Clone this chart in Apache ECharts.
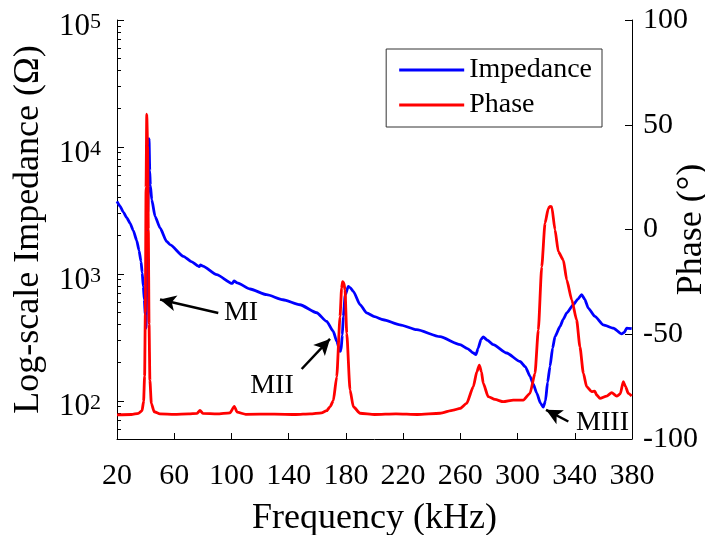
<!DOCTYPE html>
<html>
<head>
<meta charset="utf-8">
<script src="https://cdn.jsdelivr.net/npm/echarts@6/dist/echarts.min.js"></script>
<style>
  html, body { margin: 0; padding: 0; background: #fff; }
  #chart { width: 705px; height: 535px; }
</style>
</head>
<body>
<div id="chart"></div>
<script>
// Impedance magnitude (ohm) versus frequency (kHz)
const impedanceFreq = [
  20, 22.1, 24.4, 26.8, 29.1, 31.4, 33.8, 35.4, 36.8, 37.6,
  38.4, 39.1, 39.8, 40.3, 41.5, 42.4, 42.9, 43.3, 44.3, 46.6,
  50.1, 54.7, 57.0, 66.4, 72, 77, 77.5, 78.3, 80, 89.7,
  100.5, 101.8, 104, 113, 124.6, 136, 147.9, 159.6, 166.6, 171.2,
  173.6, 175.9, 176.6, 177.5, 178.2, 179.5, 181.7, 183, 185.2, 189.9,
  194.5, 200, 206.1, 217.8, 229.5, 245.8, 259.8, 265, 269.1, 270.9,
  272.5, 274.5, 276.0, 279, 283.0, 292.4, 301.7, 305.5, 308.7, 311,
  313.4, 316, 318.0, 319.5, 321, 322.7, 324.5, 326.2, 329.7, 332,
  334.4, 339.0, 342, 344.8, 347, 349.4, 354.1, 359.9, 366.9, 372.8,
  374.5, 376.3, 379.8
];
const impedanceOhm = [
  3730, 3420, 3070, 2775, 2512, 2192, 1828, 1524, 1248, 1020,
  793, 627, 462, 374, 3000, 11640, 6500, 5000, 3845, 2838,
  2300, 1803, 1700, 1374, 1250, 1150, 1140, 1175, 1150, 986,
  840, 880, 850, 760, 685, 625, 571, 494, 422, 352,
  294, 245, 250, 330, 462, 680, 796, 780, 727, 571,
  492, 460, 435, 397, 363, 320, 277, 258, 238, 231,
  260, 305, 318, 300, 277, 238, 204, 185, 156, 135,
  115, 96, 89, 100, 140, 187, 260, 321, 385, 440,
  492, 571, 630, 685, 630, 538, 462, 397, 374, 337,
  345, 374, 370
];

// Phase (degrees) versus frequency (kHz)
const phaseFreq = [
  20, 30, 35, 37.5, 38.6, 39.3, 39.8, 40.3, 40.8, 41.4,
  41.9, 42.4, 43, 44, 46, 50, 60, 70, 76, 78,
  80, 90, 99, 102, 104, 110, 130, 145, 155, 163,
  166.6, 169, 171.2, 173.6, 175.9, 177.0, 177.7, 178.6, 179.4, 180.6,
  182.9, 185.2, 189.9, 200, 215, 230, 245.8, 255.1, 259.8, 264.4,
  269.1, 271.5, 273.3, 274.8, 276.0, 279.5, 284.2, 290, 297, 304,
  308.7, 312.2, 314.5, 316.9, 319.2, 321.5, 322.7, 323.9, 326.2, 328.5,
  332, 334.4, 337.9, 341.3, 343.6, 346, 348.3, 351.8, 354, 355.3,
  357.6, 362.3, 365.8, 369.3, 371.8, 373.9, 375.5, 377.4, 379.8
];
const phaseDeg = [
  -88.5, -88.3, -87.8, -86.5, -82, -70, -40, 20, 55, 40,
  0, -45, -72, -83, -87, -88, -88.2, -88, -87.8, -86.3,
  -87.8, -88, -87.5, -84.4, -87.2, -88.2, -88.1, -88.3, -88, -87.5,
  -86.5, -84.5, -81.7, -70.3, -41.6, -28, -24.9, -25.5, -28.9, -49.6,
  -76.6, -84.6, -87.7, -88.3, -88, -88.3, -87.7, -86.2, -85.4, -83,
  -75, -68, -64.7, -68, -73.4, -79.8, -81.1, -82.2, -81.4, -81.4,
  -78.2, -68.6, -48, -17.8, 3, 10.1, 11, 10.9, -0.2, -10.6,
  -14.6, -24.1, -33.6, -43.2, -56, -68.6, -75, -77.4, -77.2, -79,
  -80.6, -79.5, -77.9, -79.5, -78.5, -72.6, -75, -78.2, -79.5
];

// Axis ticks
const freqTicks = [20, 60, 100, 140, 180, 220, 260, 300, 340, 380];
const impedanceMin = 50, impedanceMax = 100000;

// Mode annotations: label text, label anchor [kHz, ohm], arrow tail and head [kHz, ohm]
const modeNames = ['MI', 'MII', 'MIII'];
const modeLabelAt = [[106.7, 492], [128.3, 131], [359.4, 67.2]];
const modeArrowTail = [[90.8, 492], [149.1, 178], [335.5, 68.7]];
const modeArrowHead = [[50.1, 627], [168.9, 307], [319.9, 84.9]];

const serif = "'Liberation Serif', 'Times New Roman', serif";

// Minor log ticks (2..9 times each decade) for the impedance axis, in log10 units
const minorLogTicks = [];
for (let d = 1; d <= 4; d++) {
  for (let k = 2; k <= 9; k++) {
    const v = k * Math.pow(10, d);
    if (v >= impedanceMin && v <= impedanceMax) minorLogTicks.push(Math.log10(v));
  }
}

const zip = (a, b) => a.map((x, i) => [x, b[i]]);

const chart = echarts.init(document.getElementById('chart'), null, { renderer: 'canvas' });

chart.setOption({
  animation: false,
  backgroundColor: '#fff',
  grid: { left: 117, right: 73, top: 20, bottom: 96, containLabel: false, outerBoundsMode: 'none' },
  legend: {
    orient: 'vertical',
    right: 103,
    top: 49,
    icon: 'rect',
    itemWidth: 65,
    itemHeight: 3,
    itemGap: 5,
    padding: [6, 10, 7, 13],
    borderColor: '#333',
    borderWidth: 1,
    backgroundColor: '#fff',
    textStyle: { fontFamily: serif, fontSize: 28, lineHeight: 30, color: '#000' },
    data: ['Impedance', 'Phase']
  },
  xAxis: {
    type: 'value',
    min: 20,
    max: 380,
    name: 'Frequency (kHz)',
    nameLocation: 'middle',
    nameGap: 62,
    nameMoveOverlap: false,
    nameTextStyle: { fontFamily: serif, fontSize: 36, color: '#000' },
    axisLine: { onZero: false, lineStyle: { color: '#000', width: 1 } },
    axisTick: { inside: true, length: 6, customValues: freqTicks, lineStyle: { color: '#000' } },
    axisLabel: { customValues: freqTicks, fontFamily: serif, fontSize: 30, color: '#000', margin: 22 },
    splitLine: { show: false }
  },
  yAxis: [
    {
      type: 'log',
      logBase: 10,
      min: impedanceMin,
      max: impedanceMax,
      position: 'left',
      name: 'Log-scale Impedance (Ω)',
      nameLocation: 'middle',
      nameGap: 70,
      nameRotate: 90,
      nameMoveOverlap: false,
      nameTextStyle: { fontFamily: serif, fontSize: 36, color: '#000' },
      axisLine: { show: true, onZero: false, lineStyle: { color: '#000', width: 1 } },
      axisTick: { inside: true, length: 7, lineStyle: { color: '#000' } },
      axisLabel: {
        margin: 16,
        padding: [14, 0, 0, 0],
        formatter: function (v) {
          const e = Math.round(Math.log10(v));
          if (Math.abs(Math.log10(v) - e) > 1e-6) return '';
          return '{b|10}{s|' + e + '}';
        },
        rich: {
          b: { fontFamily: serif, fontSize: 31, lineHeight: 30, color: '#000', verticalAlign: 'bottom' },
          s: { fontFamily: serif, fontSize: 22, lineHeight: 22, color: '#000', verticalAlign: 'bottom', padding: [0, 0, 9, 0] }
        }
      },
      splitLine: { show: false }
    },
    {
      type: 'value',
      min: -100,
      max: 100,
      interval: 50,
      position: 'right',
      name: 'Phase (°)',
      nameLocation: 'middle',
      nameGap: 42,
      nameRotate: 90,
      nameMoveOverlap: false,
      nameTextStyle: { fontFamily: serif, fontSize: 36, color: '#000' },
      axisLine: { show: true, onZero: false, lineStyle: { color: '#000', width: 1 } },
      axisTick: { inside: true, length: 7, lineStyle: { color: '#000' } },
      axisLabel: { fontFamily: serif, fontSize: 30, color: '#000', margin: 11 },
      splitLine: { show: false }
    },
    {
      // minor ticks of the impedance axis
      type: 'value',
      min: Math.log10(impedanceMin),
      max: Math.log10(impedanceMax),
      position: 'left',
      axisLine: { show: false },
      axisTick: { show: true, inside: true, length: 4, customValues: minorLogTicks, lineStyle: { color: '#000' } },
      axisLabel: { show: false },
      splitLine: { show: false }
    }
  ],
  series: [
    {
      name: 'Impedance',
      type: 'line',
      yAxisIndex: 0,
      data: zip(impedanceFreq, impedanceOhm),
      symbol: 'none',
      smooth: 0.2,
      smoothMonotone: 'x',
      lineStyle: { color: '#0000ff', width: 2.8 },
      itemStyle: { color: '#0000ff' },
      z: 2,
      markLine: {
        silent: true,
        symbol: ['none', 'arrow'],
        symbolSize: [12, 16],
        lineStyle: { color: '#000', width: 2.5, type: 'solid' },
        label: { show: false },
        data: modeNames.map((n, i) => [
          { coord: modeArrowTail[i] },
          { coord: modeArrowHead[i] }
        ])
      },
      markPoint: {
        silent: true,
        symbol: 'rect',
        symbolSize: 1,
        itemStyle: { color: 'rgba(0,0,0,0)' },
        label: { show: true, position: 'inside', formatter: '{b}', fontFamily: serif, fontSize: 28, color: '#000' },
        data: modeNames.map((n, i) => ({ name: n, coord: modeLabelAt[i] }))
      }
    },
    {
      name: 'Phase',
      type: 'line',
      yAxisIndex: 1,
      data: zip(phaseFreq, phaseDeg),
      symbol: 'none',
      smooth: 0.2,
      smoothMonotone: 'x',
      lineStyle: { color: '#ff0000', width: 2.8 },
      itemStyle: { color: '#ff0000' },
      z: 3
    }
  ]
});
</script>
</body>
</html>
